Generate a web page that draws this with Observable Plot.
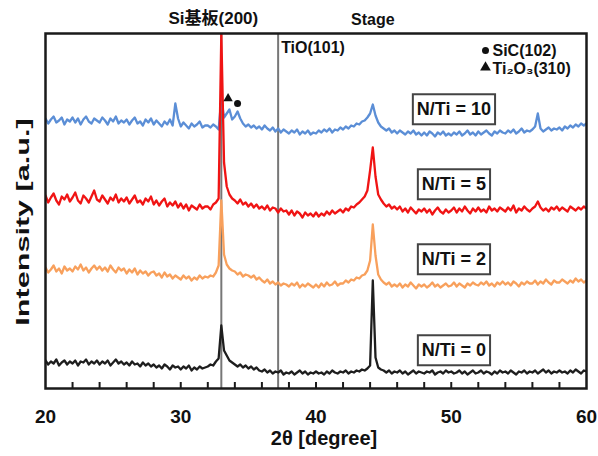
<!DOCTYPE html>
<html><head><meta charset="utf-8">
<script src="https://cdn.jsdelivr.net/npm/d3@7"></script>
<script src="https://cdn.jsdelivr.net/npm/@observablehq/plot@0.6"></script>
<style>body{margin:0;background:#fff}</style>
</head><body>
<script>
// 2θ scan grid: 20° to 60°, step 0.2°
const scanStart = 20, scanStep = 0.2, scanCount = 201;
const twoTheta = Array.from({length: scanCount}, (_, i) => +(scanStart + i * scanStep).toFixed(1));

const seriesNames = ["N/Ti = 10", "N/Ti = 5", "N/Ti = 2", "N/Ti = 0"];
const seriesColors = ["#5b8ed6", "#f01414", "#f8a05c", "#1e1e1e"];

const nti10 = [
270,265,269,272,266,268,271,264,269,267,
271,266,270,264,269,272,267,265,270,268,
266,271,268,264,270,267,272,265,268,266,
269,264,268,271,265,267,263,269,266,270,
264,268,265,262,267,264,269,263,285,270,
262,266,263,260,265,262,264,267,261,263,
263,261,264,262,259,290,271,275,279,269,
272,277,270,265,262,264,261,263,260,262,
259,263,260,258,261,257,260,256,259,257,
255,258,256,259,254,257,255,258,254,256,
255,258,256,259,257,260,256,259,258,261,
259,262,260,263,262,265,264,267,268,271,
275,284,273,266,262,260,258,260,256,258,
255,258,256,254,257,255,258,254,256,253,
256,253,257,255,252,256,254,257,253,255,
253,256,254,257,253,255,258,254,256,253,
257,254,256,258,255,253,257,255,258,256,
255,258,256,259,255,257,260,256,258,257,
259,262,275,260,257,259,261,258,260,259,
261,258,262,260,263,261,264,262,265,263,265];

const nti5 = [
193,186,191,195,188,184,192,189,194,187,
191,196,188,185,193,190,186,192,198,189,
187,193,189,185,191,188,194,186,190,187,
191,185,189,193,186,188,184,190,187,192,
184,188,183,187,190,182,186,183,187,181,
185,180,184,178,183,181,179,184,180,182,
182,179,184,186,190,355,226,202,194,190,
188,185,189,184,186,182,185,181,184,180,
182,179,183,178,181,180,176,180,177,178,
174,178,173,177,175,171,176,173,175,172,
176,172,175,173,177,174,178,175,177,179,
176,180,178,182,181,184,186,189,192,198,
218,241,212,194,189,185,182,184,180,182,
179,182,177,180,176,181,178,175,179,177,
180,176,179,174,178,181,177,175,179,176,
178,181,176,180,177,182,178,175,180,177,
181,177,179,176,182,178,180,177,181,179,
177,181,178,183,176,180,178,182,179,177,
180,182,187,181,178,180,177,181,179,182,
178,181,179,177,182,180,178,181,179,182,180];

const nti2 = [
121,116,119,123,117,120,115,122,118,120,
117,122,119,124,118,121,116,120,123,119,
122,118,121,117,123,119,116,121,118,120,
115,119,116,120,114,118,115,117,113,116,
117,113,115,111,116,112,114,110,113,111,
109,113,110,112,108,111,109,113,110,112,
111,113,112,116,123,188,134,124,120,118,
117,114,116,112,114,113,111,113,109,111,
108,106,109,105,107,104,106,103,105,104,
102,105,103,106,101,104,102,105,103,101,
104,101,105,102,106,103,104,107,103,105,
105,108,106,109,108,111,110,113,114,118,
128,164,133,114,109,106,104,106,102,104,
102,105,101,104,102,106,103,100,104,102,
104,101,103,106,102,104,101,103,105,102,
103,106,102,105,103,101,105,103,106,104,
103,106,104,107,103,105,102,106,104,107,
104,106,103,107,105,102,106,104,107,105,
105,108,104,107,105,109,106,104,108,106,
106,109,107,105,108,106,110,107,109,106,108];

const nti0 = [
28,24,27,25,29,23,26,28,24,27,
25,28,23,27,26,29,24,27,25,28,
24,27,25,28,23,26,29,25,27,24,
26,23,27,24,25,22,26,23,25,22,
24,21,23,20,24,22,19,23,21,22,
19,22,20,23,18,21,19,22,20,21,
22,24,23,27,30,63,38,33,28,26,
24,22,24,21,23,20,22,19,21,18,
17,19,16,18,15,17,16,18,14,16,
15,17,14,16,18,15,17,14,16,15,
17,15,16,14,17,15,18,16,15,17,
16,18,15,17,16,18,17,19,18,20,
23,108,31,21,19,18,16,18,15,17,
16,18,15,17,14,16,18,15,17,16,
15,17,16,18,14,16,17,15,18,16,
17,15,16,18,15,17,14,16,18,15,
16,18,15,17,16,14,17,15,18,16,
17,15,18,16,14,17,16,18,15,17,
16,18,15,17,19,16,18,15,17,16,
18,16,17,15,18,16,19,17,15,18,17];

const seriesValues = [nti10, nti5, nti2, nti0];

// reference lines (2θ)
const refLinePos = [33.0, 37.2];
// phase markers on N/Ti = 10 pattern
const phaseX = [33.5, 34.2];
const phaseY = [290, 285];
const phaseSymbol = ["triangle", "circle"];

const xMajorTicks = [20, 30, 40, 50, 60];
const xMinorTicks = [22,24,26,28,30,32,34,36,38,40,42,44,46,48,50,52,54,56,58];

const rows = [];
seriesNames.forEach((name, s) => {
  seriesValues[s].forEach((v, i) => rows.push({x: twoTheta[i], y: v, s: name}));
});
const labelIdx = 151;
const labels = seriesNames.map((name, s) => ({x: twoTheta[labelIdx], y: seriesValues[s][labelIdx], text: name}));
const phases = phaseX.map((x, i) => ({x, y: phaseY[i], symbol: phaseSymbol[i]}));

const font = "'Liberation Sans', Arial, 'Noto Sans CJK JP', sans-serif";

const lineMarks = seriesNames.map((name, s) =>
  Plot.line(rows.filter(r => r.s === name), {x: "x", y: "y", stroke: seriesColors[s], strokeWidth: 2.3, clip: true})
);

const chart = Plot.plot({
  width: 598, height: 456,
  marginTop: 33, marginLeft: 45, marginRight: 12, marginBottom: 68,
  style: {fontFamily: font, background: "#fff", color: "#111"},
  x: {domain: [20, 60], axis: null},
  y: {domain: [0, 355], axis: null},
  marks: [
    Plot.ruleX(refLinePos, {stroke: "#777", strokeWidth: 2}),
    ...lineMarks,
    Plot.dot(phases, {x: "x", y: "y", symbol: "symbol", r: 3.5, fill: "#111", stroke: null}),
    Plot.ruleX(xMinorTicks, {y1: 0, y2: 6, stroke: "#1a1a1a", strokeWidth: 2}),
    Plot.axisX(xMajorTicks, {anchor: "bottom", tickSize: 0, tickPadding: 21, fontSize: 19, fontWeight: "bold", label: null, tickFormat: d => d}),
    Plot.frame({stroke: "#1a1a1a", strokeWidth: 2.5}),
    Plot.text(["2θ [degree]"], {frameAnchor: "bottom", dy: 56, dx: 8, fontSize: 20, fontWeight: "bold"}),
    Plot.text(["Intensity [a.u.]"], {frameAnchor: "left", textAnchor: "middle", lineAnchor: "middle", rotate: -90, dx: -22, dy: 11, fontSize: 18, fontWeight: "bold", className: "ylab"}),
    Plot.text(["Si基板(200)"], {x: refLinePos[0], frameAnchor: "top", lineAnchor: "middle", dy: -15, dx: -8, fontSize: 17, fontWeight: "bold"}),
    Plot.text(["TiO(101)"], {x: refLinePos[1], frameAnchor: "top", lineAnchor: "middle", dy: 14, dx: 3, textAnchor: "start", fontSize: 16, fontWeight: "bold"}),
    Plot.text(["Stage"], {x: twoTheta[121], frameAnchor: "top", lineAnchor: "middle", dy: -14, fontSize: 16, fontWeight: "bold"}),
    Plot.dot([0], {frameAnchor: "top-right", dx: -101, dy: 17, r: 3.5, fill: "#111", stroke: null, symbol: "circle"}),
    Plot.dot([0], {frameAnchor: "top-right", dx: -101, dy: 34, r: 4, fill: "#111", stroke: null, symbol: "triangle"}),
    Plot.text(["SiC(102)"], {frameAnchor: "top-right", lineAnchor: "middle", dx: -94, dy: 17, textAnchor: "start", fontSize: 16, fontWeight: "bold"}),
    Plot.text(["Ti₂O₃(310)"], {frameAnchor: "top-right", lineAnchor: "middle", dx: -94, dy: 35, textAnchor: "start", fontSize: 16, fontWeight: "bold"}),
    Plot.text(labels, {x: "x", y: "y", text: "text", dy: -23, fontSize: 18, fontWeight: "bold", className: "ntilab"})
  ]
});
document.body.appendChild(chart);

// stretch y label to match the reference's aspect
chart.querySelectorAll(".ylab text").forEach(t => {
  const tr = t.getAttribute("transform") || "";
  t.setAttribute("transform", tr + " scale(1.7,1)");
});
// boxes around the N/Ti labels
chart.querySelectorAll(".ntilab text").forEach(t => {
  const b = t.getBBox();
  const r = document.createElementNS("http://www.w3.org/2000/svg", "rect");
  r.setAttribute("x", b.x - 4); r.setAttribute("y", b.y - 5);
  r.setAttribute("width", b.width + 8); r.setAttribute("height", b.height + 10);
  r.setAttribute("fill", "#fff"); r.setAttribute("stroke", "#444"); r.setAttribute("stroke-width", 2);
  const tt = t.getAttribute("transform");
  if (tt) r.setAttribute("transform", tt);
  t.parentNode.insertBefore(r, t);
});
</script>
</body></html>
